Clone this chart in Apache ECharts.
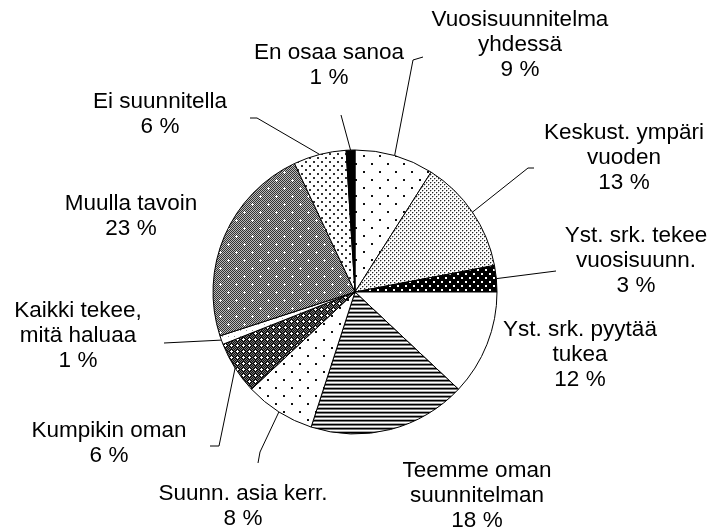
<!DOCTYPE html>
<html>
<head>
<meta charset="utf-8">
<script src="https://cdn.jsdelivr.net/npm/echarts@6/dist/echarts.min.js"></script>
<style>
html, body { margin: 0; padding: 0; background: #fff; }
#chart { width: 710px; height: 532px; }
</style>
</head>
<body>
<div id="chart"></div>
<script>
// slices clockwise from 12 o'clock
const categories = [
    'Vuosisuunnitelma\nyhdessä',
    'Keskust. ympäri\nvuoden',
    'Yst. srk. tekee\nvuosisuunn.',
    'Yst. srk. pyytää\ntukea',
    'Teemme oman\nsuunnitelman',
    'Suunn. asia kerr.',
    'Kumpikin oman',
    'Kaikki tekee,\nmitä haluaa',
    'Muulla tavoin',
    'Ei suunnitella',
    'En osaa sanoa'
];
const shares = [9, 13, 3, 12, 18, 8, 6, 1, 23, 6, 1];

// label block centres and leader line bends (null = no leader line)
const labelPos = [
    [520, 45], [624, 158], [636, 261], [580, 355], [477, 496], [243, 506],
    [109, 443], [78, 336], [131, 216], [160, 114], [329, 65]
];
const leaderPts = [
    [[413, 60], [423, 57]],
    [[528, 168], [534, 168]],
    [[556, 271], [556, 271]],
    null,
    null,
    [[260, 452], [258, 463]],
    [[219, 446], [210, 446]],
    [[164, 343], [164, 343]],
    null,
    [[257, 118], [250, 118]],
    [[341, 115], [341, 115]]
];

function pattern(w, h, bg, draw) {
    const c = document.createElement('canvas');
    c.width = w;
    c.height = h;
    const ctx = c.getContext('2d');
    ctx.fillStyle = bg;
    ctx.fillRect(0, 0, w, h);
    if (draw) draw(ctx);
    return { image: c, repeat: 'repeat' };
}
function px(ctx, color, pts, s) {
    ctx.fillStyle = color;
    pts.forEach(p => ctx.fillRect(p[0], p[1], s || 1, s || 1));
}

const sparseDots = pattern(16, 16, '#fff', ctx => px(ctx, '#111', [[3, 3], [11, 11]], 2));
const fineDots = pattern(4, 4, '#fff', ctx => {
    px(ctx, '#222', [[0, 0], [2, 2]]);
    px(ctx, '#bbb', [[1, 0], [3, 2], [0, 1], [2, 3]]);
});
const blackDots = pattern(8, 8, '#000', ctx => px(ctx, '#fff', [[1, 1], [5, 5]], 2));
const stripes = pattern(4, 4, '#fff', ctx => {
    ctx.fillStyle = '#000'; ctx.fillRect(0, 0, 4, 1);
    ctx.fillStyle = '#777'; ctx.fillRect(0, 1, 4, 1);
    ctx.fillStyle = '#aaa'; ctx.fillRect(0, 3, 4, 1);
});
const crossDark = pattern(6, 6, '#111', ctx => {
    px(ctx, '#777', [[0, 0], [1, 1], [5, 5], [5, 1], [1, 5], [0, 2], [2, 0], [4, 0], [0, 4]]);
    px(ctx, '#fff', [[3, 2], [2, 3], [3, 3], [4, 3], [3, 4]]);
});
const lightGrid = pattern(6, 6, '#fff', ctx => px(ctx, '#999', [[0, 0]]));
const grayPlus = pattern(16, 16, '#fff', ctx => {
    for (let y = 0; y < 16; y++) {
        for (let x = 0; x < 16; x++) {
            if ((x + y) % 2 === 0) px(ctx, '#333', [[x, y]]);
            else px(ctx, '#bbb', [[x, y]]);
        }
    }
    px(ctx, '#fff', [[4, 3], [3, 4], [4, 4], [5, 4], [4, 5], [12, 11], [11, 12], [12, 12], [13, 12], [12, 13]]);
});
const mediumDots = pattern(8, 8, '#fff', ctx => px(ctx, '#333', [[1, 1], [5, 5]], 2));

const fills = [sparseDots, fineDots, blackDots, '#fff', stripes, sparseDots,
    crossDark, lightGrid, grayPlus, mediumDots, '#000'];

const chart = echarts.init(document.getElementById('chart'));

chart.setOption({
    backgroundColor: '#fff',
    animation: false,
    series: [
        {
            type: 'pie',
            center: [355, 292],
            radius: 142,
            startAngle: 90,
            clockwise: true,
            avoidLabelOverlap: false,
            itemStyle: {
                borderColor: '#000',
                borderWidth: 1
            },
            label: {
                show: true,
                position: 'outside',
                color: '#000',
                fontFamily: 'Liberation Sans',
                fontSize: 22.5,
                lineHeight: 25,
                align: 'center',
                formatter(p) {
                    return p.name + '\n' + p.value + ' %';
                }
            },
            labelLine: {
                show: true,
                length: 10,
                length2: 10,
                lineStyle: { color: '#000', width: 1 }
            },
            labelLayout(p) {
                const i = p.dataIndex;
                const out = {
                    x: labelPos[i][0],
                    y: labelPos[i][1],
                    align: 'center',
                    verticalAlign: 'middle'
                };
                if (leaderPts[i] && p.labelLinePoints) {
                    out.labelLinePoints = [p.labelLinePoints[0], leaderPts[i][0], leaderPts[i][1]];
                }
                return out;
            },
            emphasis: { disabled: true },
            data: categories.map((name, i) => ({
                name: name,
                value: shares[i],
                itemStyle: { color: fills[i] },
                labelLine: { show: !!leaderPts[i] }
            }))
        }
    ]
});
</script>
</body>
</html>
